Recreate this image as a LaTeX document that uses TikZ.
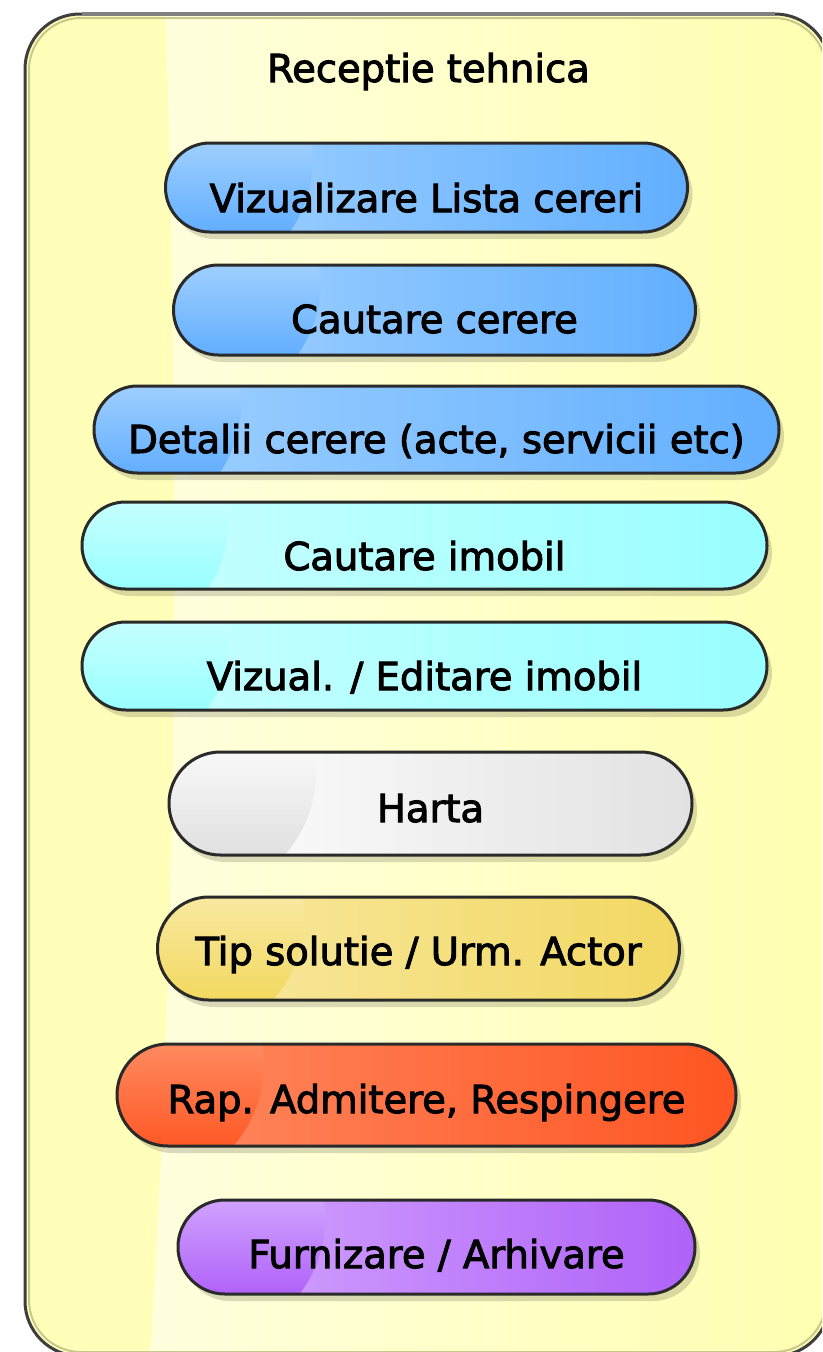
\documentclass[tikz,border=0pt]{standalone}
\usepackage{fontspec}
\setmainfont{DejaVu Sans}[FakeBold=2.6]
\usetikzlibrary{shadows}
\definecolor{contbase}{HTML}{FFFFB9}
\definecolor{contlight}{HTML}{FFFFDE}
\definecolor{contright}{HTML}{FFFFB0}
\definecolor{contline}{HTML}{3E3E3E}
\definecolor{conttop}{HTML}{808080}
\definecolor{continner}{HTML}{C8C88C}
\definecolor{pillline}{HTML}{2A2A2A}
% blue
\definecolor{blueL}{HTML}{A2D2FF}\definecolor{blueR}{HTML}{62AFFF}
\definecolor{blueT}{HTML}{9ECFFF}\definecolor{blueB}{HTML}{62AEFF}
% cyan
\definecolor{cyanL}{HTML}{CCFFFF}\definecolor{cyanR}{HTML}{99FFFF}
\definecolor{cyanT}{HTML}{C6FFFF}\definecolor{cyanB}{HTML}{99FFFF}
% gray
\definecolor{grayL}{HTML}{FFFFFF}\definecolor{grayR}{HTML}{E2E2E2}
\definecolor{grayT}{HTML}{F8F8F8}\definecolor{grayB}{HTML}{E0E0E0}
% yellow
\definecolor{yelL}{HTML}{F8E9A4}\definecolor{yelR}{HTML}{F2D862}
\definecolor{yelT}{HTML}{F8E8A0}\definecolor{yelB}{HTML}{F2D960}
% red
\definecolor{redL}{HTML}{FF8C64}\definecolor{redR}{HTML}{FF5522}
\definecolor{redT}{HTML}{FF8A60}\definecolor{redB}{HTML}{FF5926}
% purple
\definecolor{purL}{HTML}{D4A8FF}\definecolor{purR}{HTML}{B062F8}
\definecolor{purT}{HTML}{D0A2FF}\definecolor{purB}{HTML}{B062F8}

\tikzset{
  pill/.style n args={4}{
    draw=pillline, line width=3pt,
    rounded corners=0.499*#2,
    minimum width=#1, minimum height=#2,
    inner sep=0pt, text height=#3, text depth=0pt,
    left color=#4L, right color=#4R,
    drop shadow={shadow xshift=5pt, shadow yshift=-7pt, opacity=0.15, fill=black},
    path picture={
      \begin{scope}[sharp corners]
        \clip ([xshift=20pt,yshift=0.3*#2]path picture bounding box.west)
          ellipse [x radius=127pt, y radius=125pt];
        \shade[top color=#4T, bottom color=#4B]
          (path picture bounding box.north west) rectangle
          (path picture bounding box.south east);
      \end{scope}
    }
  },
  titletext/.style={anchor=base, inner sep=0pt}
}

\begin{document}
\begin{tikzpicture}[x=1pt, y=-1pt, font=\fontsize{38.5}{46}\selectfont]
\useasboundingbox (0,0) rectangle (822,1352);
\clip (0,0) rectangle (822,1352);
\fill[white] (0,0) rectangle (822,1352);

% container
\fill[contbase, rounded corners=55pt] (25,14) rectangle (830,1356);
\begin{scope}
  \clip[rounded corners=55pt] (25,14) rectangle (830,1356);
  \shade[left color=contlight, right color=contright]
    (165,0) .. controls (182,500) and (176,950) .. (150,1360)
    -- (840,1360) -- (840,0) -- cycle;
\end{scope}
\draw[continner, line width=2pt, rounded corners=52pt] (29,18) rectangle (826,1352);
\draw[contline, line width=3pt, rounded corners=55pt] (25,14) rectangle (830,1356);
\draw[conttop, line width=4pt] (82,14) -- (775,14);

\node[titletext] (title) at (428.5,82) {Receptie tehnica};

\node[pill={522pt}{89pt}{49pt}{blue}] (p1) at (426.5,187.5) {Vizualizare Lista cereri};
\node[pill={522pt}{90pt}{46pt}{blue}] (p2) at (434.5,310) {Cautare cerere};
\node[pill={685pt}{87pt}{47pt}{blue}] (p3) at (436.5,429.5) {Detalii cerere (acte, servicii etc)};
\node[pill={685pt}{87pt}{49pt}{cyan}] (p4) at (424.5,545.5) {Cautare imobil};
\node[pill={685pt}{88pt}{48pt}{cyan}] (p5) at (424.5,666) {Vizual. / Editare imobil};
\node[pill={523pt}{103pt}{37pt}{gray}] (p6) at (430.5,803.5) {Harta};
\node[pill={522pt}{103pt}{33pt}{yel}] (p7) at (418.5,948.5) {Tip solutie / Urm. Actor};
\node[pill={619pt}{102pt}{36pt}{red}] (p8) at (426.5,1095) {Rap. Admitere, Respingere};
\node[pill={517pt}{94pt}{42pt}{pur}] (p9) at (436.5,1247) {Furnizare / Arhivare};
\end{tikzpicture}
\end{document}
